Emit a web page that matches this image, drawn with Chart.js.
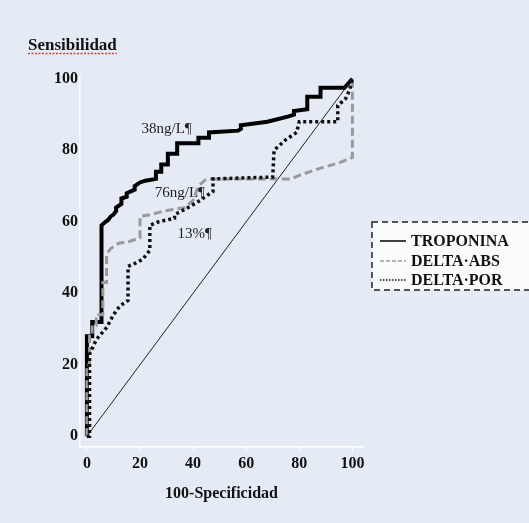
<!DOCTYPE html>
<html>
<head>
<meta charset="utf-8">
<script src="https://cdn.jsdelivr.net/npm/chart.js@4.4.0/dist/chart.umd.min.js"></script>
<style>
body{margin:0;background:#e4eaf4;}
#wrap{width:529px;height:523px;}
</style>
</head>
<body>
<div id="wrap"><canvas id="roc" width="529" height="523"></canvas></div>
<script>
const seriesNames = ["TROPONINA", "DELTA·ABS", "DELTA·POR"];

// ROC curves, 100-specificity vs sensitivity
const tropX = [0,0,2,2,5.5,5.5,7,8,9,10,11,11,13,13,15,15,18,18,20,22,26,26,28,28,30.5,30.5,34,34,42,42,46,46,57,58,58,68,76,78,78,83,83,88,88,97,100];
const tropY = [0,28,28,32,32,59,60,60.5,61.5,62,63,64,65,66.5,67,68,69,70,71,71.5,72,74,74,76,76,79,79,82,82,83.5,83.5,85,85.5,86,87,88,89.5,90,91,91.5,95,95,97.5,97.5,100];

const absX = [0,0,1,1,2,2,3.5,3.5,6,6,7.4,7.4,9,12,16,20,20,24,29,33,37,40,42,45,77,80,88,95,100,100];
const absY = [0,20,20,28,28,31,31,34,34,43,43,51,52.5,54,54.5,55.5,61.5,62,63,63.5,64,66,70,72,72,73,75,76.5,78,100];

const porX = [0,1,1,3.5,7.5,10,12.5,15.5,15.5,18.5,21,23.7,23.7,27,33,33,37,42,47.5,47.5,70,70.5,75,79,80,94.5,94.5,97.5,99,100];
const porY = [0,0,23,27,30.5,34,36.5,38,47.5,48.5,49.5,52,59,60,61,62,63.5,65.7,68.5,72,72.5,80,83,85,88,88,92.5,94.5,97,100];

const diagX = [0,100];
const diagY = [0,100];

const xTicks = [0,20,40,60,80,100];
const yTicks = [0,20,40,60,80,100];

// cut-off labels
const cutLabels = ["38ng/L¶", "76ng/L¶", "13%¶"];
const cutX = [30, 35, 40.6];
const cutY = [86, 68, 56.5];

const serif = "'Liberation Serif', 'Times New Roman', serif";
const bg = "#e5ebf4";

function pts(xs, ys) {
  return xs.map((x, i) => ({x: x, y: ys[i]}));
}

const bgPlugin = {
  id: "bg",
  beforeDraw(chart) {
    const c = chart.ctx;
    c.save();
    c.fillStyle = bg;
    c.fillRect(0, 0, chart.width, chart.height);
    c.restore();
  }
};

const textPlugin = {
  id: "texts",
  afterDatasetsDraw(chart) {
    const c = chart.ctx;
    const xs = chart.scales.x, ys = chart.scales.y;
    c.save();
    c.fillStyle = "#222";
    c.font = "15px " + serif;
    c.textAlign = "center";
    c.textBaseline = "middle";
    for (let i = 0; i < cutLabels.length; i++) {
      c.fillText(cutLabels[i], xs.getPixelForValue(cutX[i]), ys.getPixelForValue(cutY[i]));
    }
    c.restore();
  },
  afterDraw(chart) {
    const c = chart.ctx;
    c.save();
    // y axis title
    c.fillStyle = "#111";
    c.font = "bold 17px " + serif;
    c.textAlign = "left";
    c.textBaseline = "alphabetic";
    c.fillText("Sensibilidad", 28, 50);
    const w = c.measureText("Sensibilidad").width;
    c.strokeStyle = "#d43c3c";
    c.lineWidth = 1.3;
    c.setLineDash([2, 1.5]);
    c.beginPath();
    c.moveTo(28, 53.5);
    c.lineTo(28 + w, 53.5);
    c.stroke();

    // legend box
    const bx = 372, by = 222, bw = 170, bh = 68;
    c.setLineDash([6, 4]);
    c.fillStyle = "#fbfcfd";
    c.fillRect(bx, by, bw, bh);
    c.strokeStyle = "#222";
    c.lineWidth = 1.5;
    c.strokeRect(bx, by, bw, bh);
    const rows = [241, 261, 280];
    const sets = chart.data.datasets.filter(d => seriesNames.includes(d.label));
    sets.forEach((d, i) => {
      c.strokeStyle = d.borderColor;
      c.lineWidth = 1.5;
      c.setLineDash((d.borderDash || []).map(v => v / 2));
      c.beginPath();
      c.moveTo(380, rows[i]);
      c.lineTo(406, rows[i]);
      c.stroke();
      c.fillStyle = "#111";
      c.font = "bold 16px " + serif;
      c.textBaseline = "middle";
      c.fillText(d.label, 411, rows[i] + 1);
    });
    c.restore();
  }
};

const ctx = document.getElementById("roc").getContext("2d");

const chart = new Chart(ctx, {
  type: "scatter",
  data: {
    datasets: [
      {
        label: "diagonal",
        data: pts(diagX, diagY),
        showLine: true,
        borderColor: "#222",
        borderWidth: 1,
        pointRadius: 0,
        order: 4
      },
      {
        label: seriesNames[0],
        data: pts(tropX, tropY),
        showLine: true,
        borderColor: "#000",
        borderWidth: 4,
        pointRadius: 0,
        order: 3
      },
      {
        label: seriesNames[1],
        data: pts(absX, absY),
        showLine: true,
        borderColor: "#9a9a9a",
        borderWidth: 3,
        borderDash: [8, 4],
        pointRadius: 0,
        order: 2
      },
      {
        label: seriesNames[2],
        data: pts(porX, porY),
        showLine: true,
        borderColor: "#111",
        borderWidth: 3.5,
        borderDash: [3, 3],
        pointRadius: 0,
        order: 1
      }
    ]
  },
  options: {
    responsive: false,
    animation: false,
    layout: {padding: {top: 77, right: 166, left: 0, bottom: 16}},
    plugins: {legend: {display: false}, tooltip: {enabled: false}},
    scales: {
      x: {
        type: "linear",
        min: -2.6,
        max: 104,
        afterBuildTicks: s => { s.ticks = xTicks.map(v => ({value: v})); },
        afterFit: s => { s.height = 60; },
        border: {display: true, color: "#ffffff", width: 1.5},
        grid: {display: true, drawOnChartArea: false, color: "#ffffff", tickLength: 4},
        ticks: {color: "#111", font: {family: serif, size: 16, weight: "bold"}, padding: 3},
        title: {display: true, text: "100-Specificidad", color: "#111", font: {family: serif, size: 16, weight: "bold"}, padding: {top: 6}}
      },
      y: {
        type: "linear",
        min: -3,
        max: 100.5,
        afterBuildTicks: s => { s.ticks = yTicks.map(v => ({value: v})); },
        afterFit: s => { s.width = 80; },
        border: {display: true, color: "#ffffff", width: 1.5},
        grid: {display: false, drawTicks: false},
        ticks: {color: "#111", font: {family: serif, size: 16, weight: "bold"}, padding: 2}
      }
    }
  },
  plugins: [bgPlugin, textPlugin]
});
</script>
</body>
</html>
